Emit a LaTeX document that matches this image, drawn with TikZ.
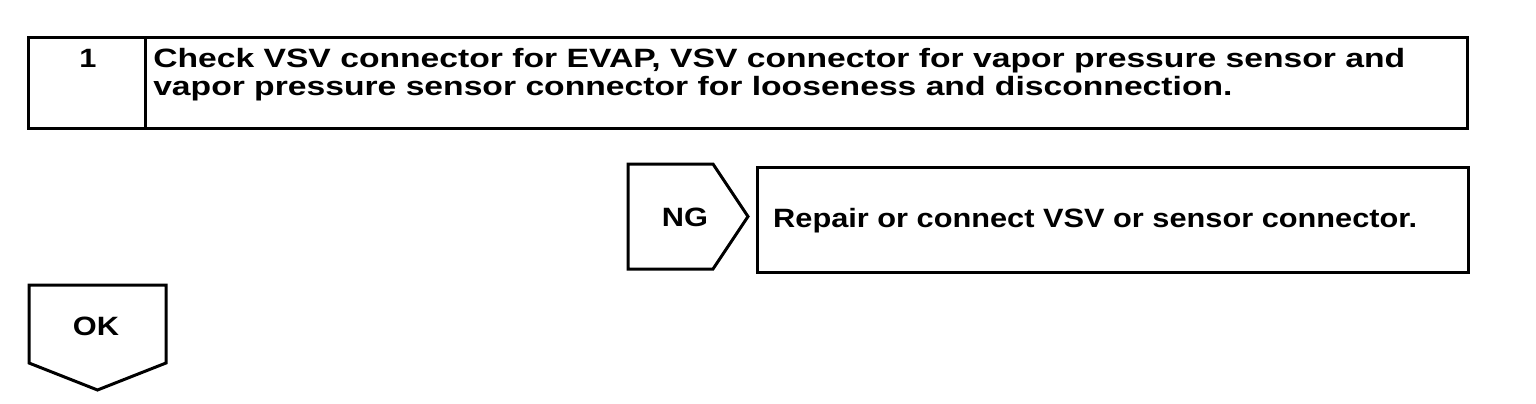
\documentclass[tikz,border=0pt]{standalone}
\usepackage{fontspec}
\setmainfont{Liberation Sans}
\usetikzlibrary{positioning}

\begin{document}
\begin{tikzpicture}[
x=1pt, y=-1pt,
frame/.style={draw, line width=3pt, line join=miter},
txt/.style={inner sep=0pt, anchor=base west, xscale=1.16, font=\fontsize{26.5}{28}\selectfont\bfseries},
ctxt/.style={inner sep=0pt, anchor=base, xscale=1.16, font=\fontsize{26.5}{28}\selectfont\bfseries},
wide/.style={xscale=1.095}
]
\useasboundingbox (0,0) rectangle (1536,404);

% step box
\draw[frame] (28,38) rectangle (1467,128);
\draw[frame] (145,38) -- (145,128);
\node[ctxt] (num) at (88,67) {1};
\node[txt, wide] (chk1) at (153,67) {Check VSV connector for EVAP, VSV connector for vapor pressure sensor and};
\node[txt, wide] (chk2) at (153,95) {vapor pressure sensor connector for looseness and disconnection.};

% NG branch
\draw[frame] (628,164) -- (713,164) -- (748,216.5) -- (713,269) -- (628,269) -- cycle;
\node[ctxt] (ng) at (685,226) {NG};
\draw[frame] (757,167) rectangle (1468,272);
\node[txt] (repair) at (773,227) {Repair or connect VSV or sensor connector.};

% OK branch
\draw[frame] (29,285) -- (166,285) -- (166,363) -- (97.5,390) -- (29,363) -- cycle;
\node[ctxt] (ok) at (96,335) {OK};

\end{tikzpicture}
\end{document}
